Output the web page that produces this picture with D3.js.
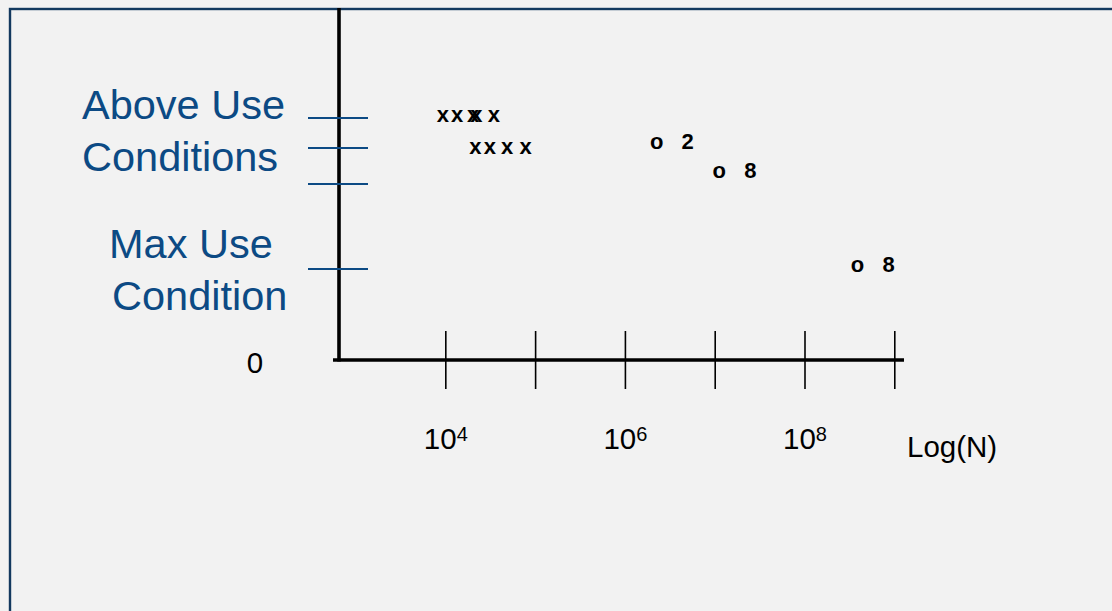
<!DOCTYPE html>
<html>
<head>
<meta charset="utf-8">
<script src="https://cdn.jsdelivr.net/npm/d3@7"></script>
<style>
  html, body { margin: 0; padding: 0; background: #f2f2f2; }
  svg { display: block; }
</style>
</head>
<body>
<svg id="chart" width="1112" height="611"></svg>
<script>
// Stress levels marked on the vertical axis (arbitrary stress units)
const stressLevels = [2.66, 2.33, 1.934, 1.0];
const stressLabels = [
  { lines: ["Above Use", "Conditions"], level: 2.33 },
  { lines: ["Max Use", "Condition"], level: 1.0 }
];

// Cycles to failure (x) per test stress
const failN = [9300, 13400, 20200, 21900, 34300, 21400, 30900, 48200, 77300];
const failStress = [2.68, 2.68, 2.68, 2.68, 2.68, 2.325, 2.325, 2.325, 2.325];

// Suspended units (o) with the number of survivors
const suspN = [2.23e6, 1.11e7, 3.85e8];
const suspStress = [2.385, 2.06, 1.027];
const suspCount = ["2", "8", "8"];

// Decade ticks on the N axis and the exponents that get a label
const decadeTicks = [1e4, 1e5, 1e6, 1e7, 1e8, 1e9];
const labelExponents = [4, 6, 8];

const svg = d3.select("#chart");
const navy = "#13395f";
const blue = "#0c4a84";

const x = d3.scaleLog().domain([Math.pow(10, 2.8105), Math.pow(10, 9.1025)]).range([339, 904]);
const y = d3.scaleLinear().domain([0, 3.868]).range([360, 8]);

// frame
svg.append("rect")
  .attr("x", 10).attr("y", 9)
  .attr("width", 1200).attr("height", 700)
  .attr("fill", "#f2f2f2")
  .attr("stroke", navy).attr("stroke-width", 2.4);

// axes lines
svg.append("line")
  .attr("x1", x.range()[0]).attr("x2", x.range()[0])
  .attr("y1", y.range()[1]).attr("y2", y(0) + 1.5)
  .attr("stroke", "#000").attr("stroke-width", 3.6);
svg.append("line")
  .attr("x1", x.range()[0] - 6).attr("x2", x.range()[1])
  .attr("y1", y(0)).attr("y2", y(0))
  .attr("stroke", "#000").attr("stroke-width", 3.6);

// x ticks
svg.append("g").selectAll("line").data(decadeTicks).join("line")
  .attr("x1", d => x(d)).attr("x2", d => x(d))
  .attr("y1", y(0) - 29).attr("y2", y(0) + 29)
  .attr("stroke", "#000").attr("stroke-width", 1.6);

// x tick labels 10^k
const xl = svg.append("g").selectAll("text").data(labelExponents).join("text")
  .attr("x", d => x(Math.pow(10, d)))
  .attr("y", y(0) + 89)
  .attr("text-anchor", "middle")
  .attr("font-family", "Liberation Sans, Arial, sans-serif")
  .attr("font-size", 29.5)
  .attr("fill", "#000");
xl.append("tspan").text("10");
xl.append("tspan").attr("font-size", 20).attr("dy", -7.7).text(d => d);

svg.append("text")
  .attr("x", 907).attr("y", y(0) + 97)
  .attr("font-family", "Liberation Sans, Arial, sans-serif")
  .attr("font-size", 29.5).attr("fill", "#000")
  .text("Log(N)");

svg.append("text")
  .attr("x", 255).attr("y", y(0) + 13)
  .attr("text-anchor", "middle")
  .attr("font-family", "Liberation Sans, Arial, sans-serif")
  .attr("font-size", 29.5).attr("fill", "#000")
  .text("0");

// y ticks
svg.append("g").selectAll("line").data(stressLevels).join("line")
  .attr("x1", x.range()[0] - 31).attr("x2", x.range()[0] + 29)
  .attr("y1", d => y(d)).attr("y2", d => y(d))
  .attr("stroke", blue).attr("stroke-width", 2);

// y category labels
const lineX = [[82, 82], [109, 112]];
const firstBaseline = [119, 258];
stressLabels.forEach((lab, i) => {
  svg.append("g").selectAll("text").data(lab.lines).join("text")
    .attr("x", (d, j) => lineX[i][j])
    .attr("y", (d, j) => firstBaseline[i] + j * 52)
    .attr("font-family", "Liberation Sans, Arial, sans-serif")
    .attr("font-size", 41.5)
    .attr("fill", blue)
    .text(d => d);
});

// failures
svg.append("g").selectAll("text").data(failN).join("text")
  .attr("x", d => x(d))
  .attr("y", (d, i) => y(failStress[i]))
  .attr("dy", "0.26em")
  .attr("text-anchor", "middle")
  .attr("font-family", "Liberation Sans, Arial, sans-serif")
  .attr("font-weight", "bold")
  .attr("font-size", 22)
  .attr("fill", "#000")
  .text("x");

// suspensions
const sg = svg.append("g").selectAll("g").data(suspN).join("g");
sg.append("text")
  .attr("x", d => x(d))
  .attr("y", (d, i) => y(suspStress[i]))
  .attr("dy", "0.26em")
  .attr("text-anchor", "middle")
  .attr("font-family", "Liberation Sans, Arial, sans-serif")
  .attr("font-weight", "bold")
  .attr("font-size", 22)
  .attr("fill", "#000")
  .text("o");
sg.append("text")
  .attr("x", d => x(d) + 31)
  .attr("y", (d, i) => y(suspStress[i]))
  .attr("dy", "0.26em")
  .attr("text-anchor", "middle")
  .attr("font-family", "Liberation Sans, Arial, sans-serif")
  .attr("font-weight", "bold")
  .attr("font-size", 22)
  .attr("fill", "#000")
  .text((d, i) => suspCount[i]);
</script>
</body>
</html>
